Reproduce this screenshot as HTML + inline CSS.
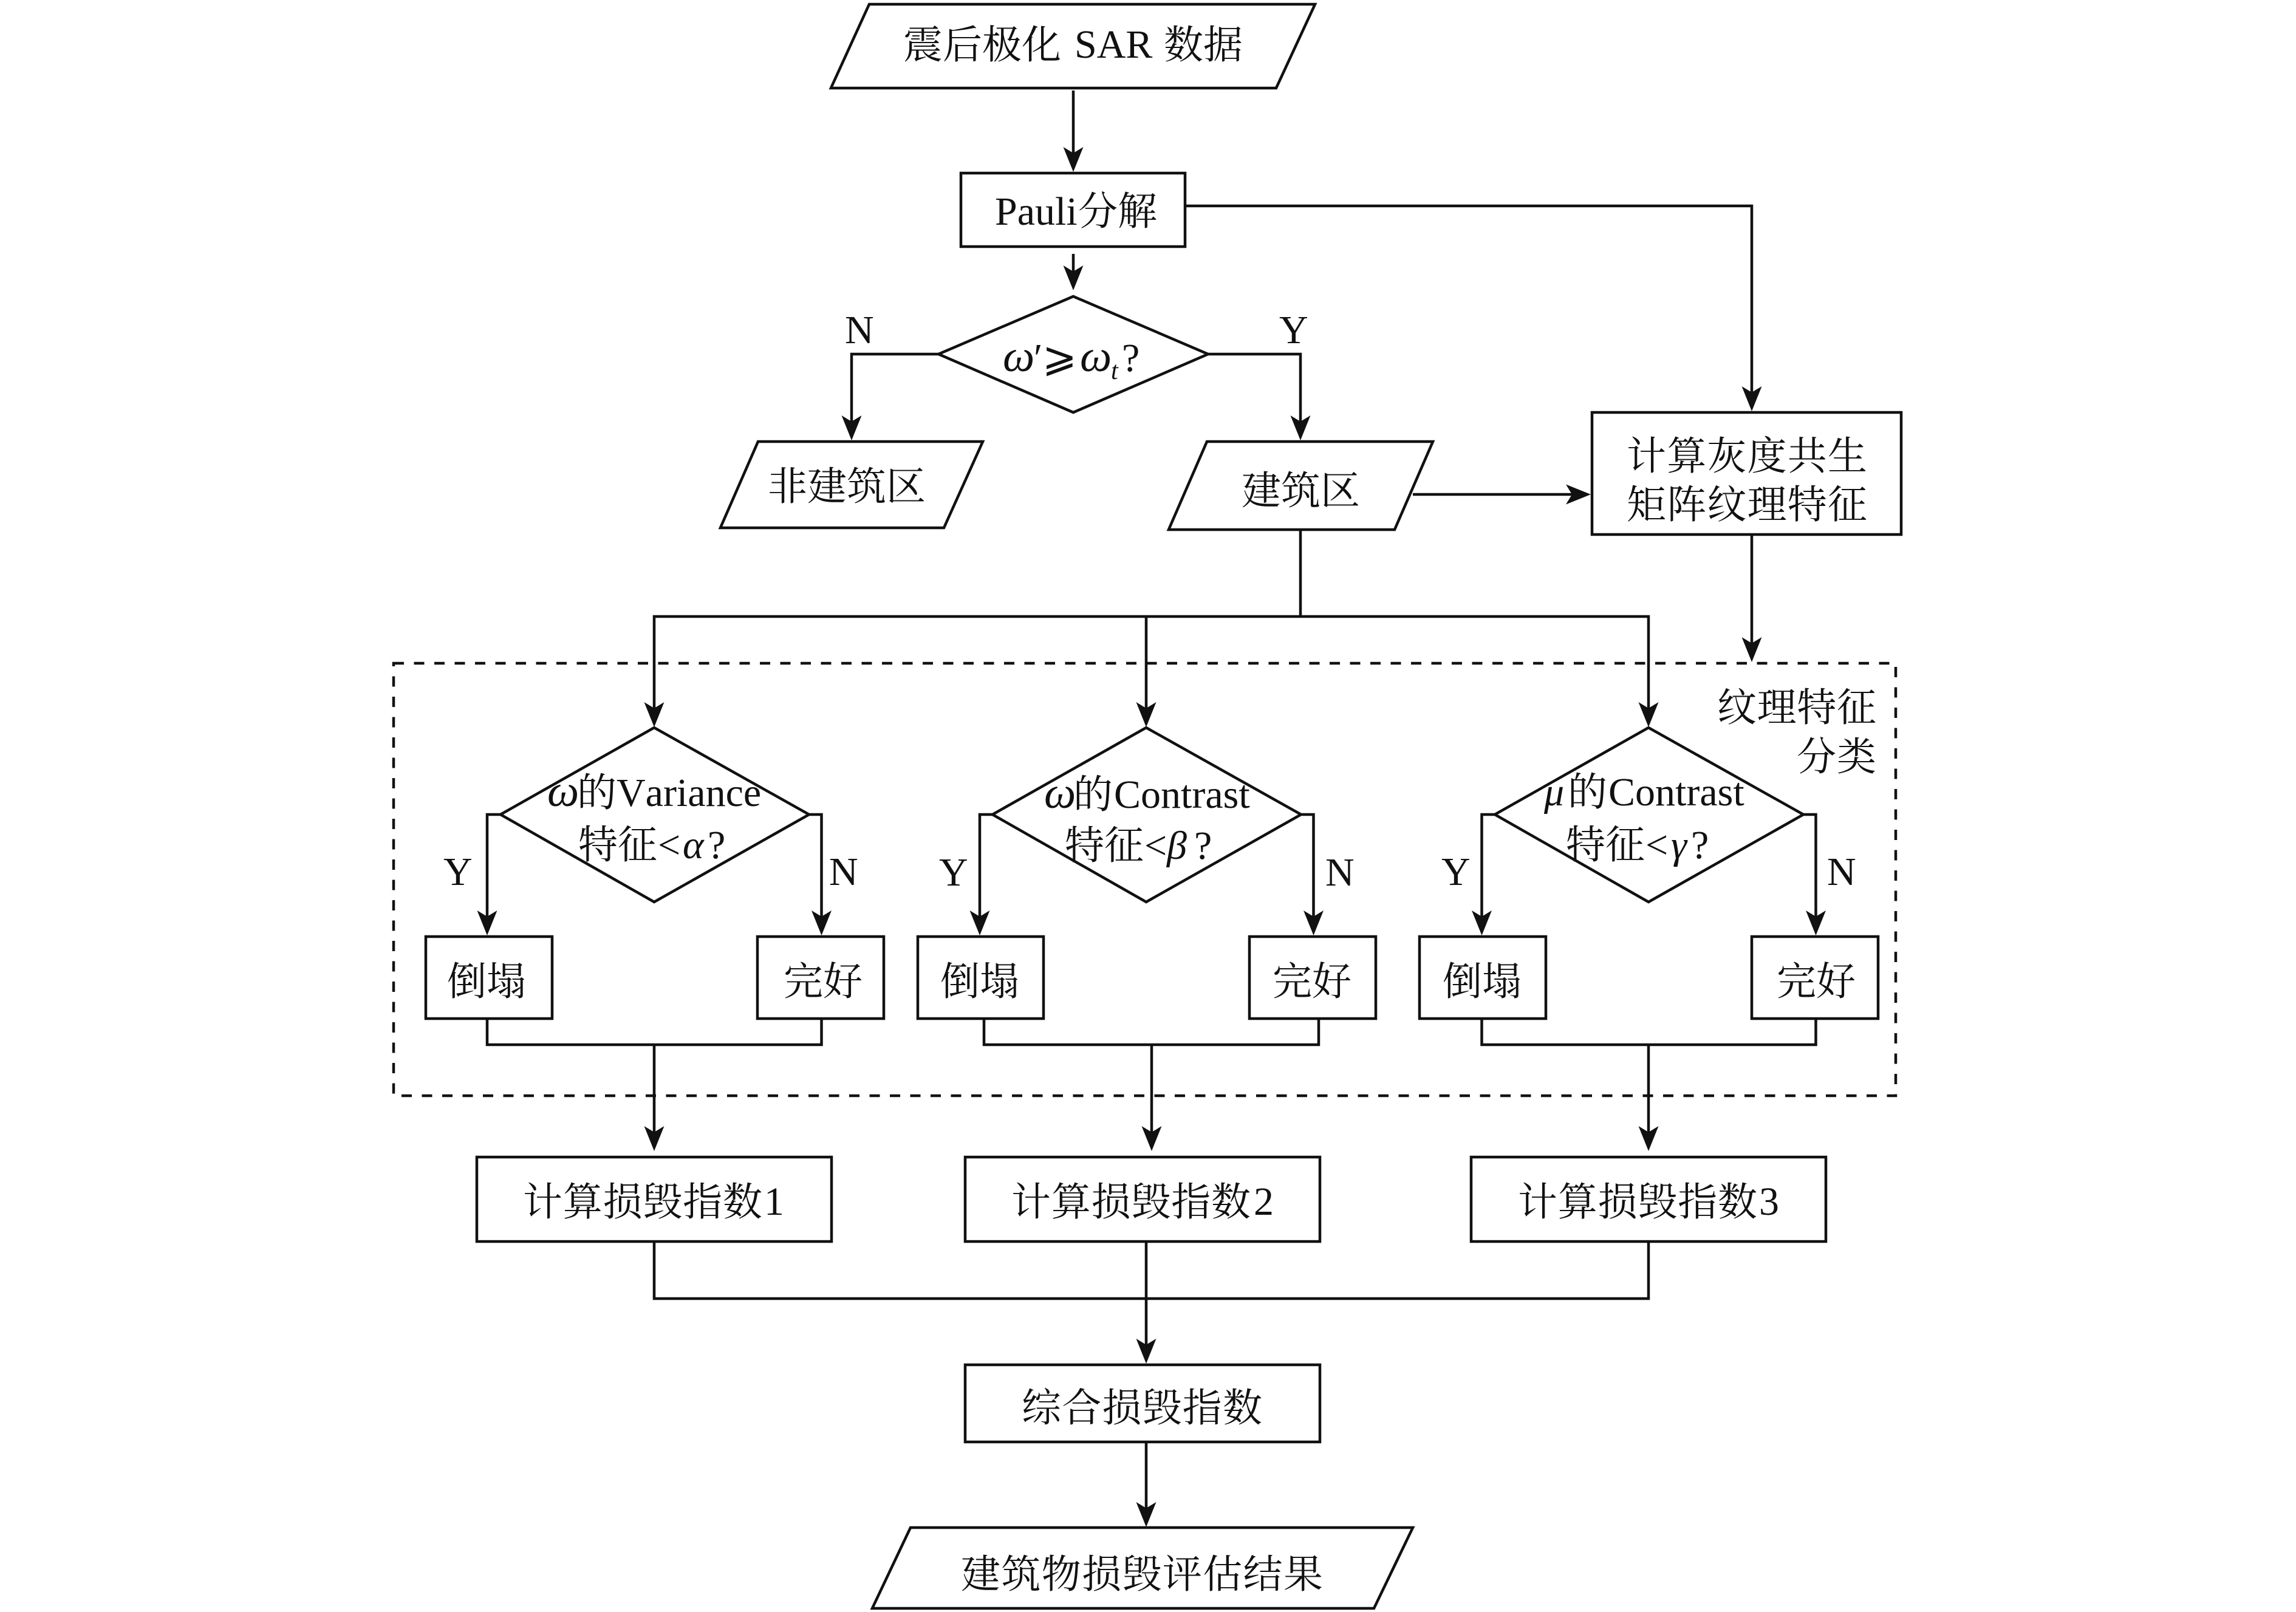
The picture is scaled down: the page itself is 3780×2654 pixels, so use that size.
<!DOCTYPE html>
<html lang="zh"><head><meta charset="utf-8"><title>建筑物损毁评估流程</title>
<style>
html,body{margin:0;padding:0;background:#fff;width:3780px;height:2654px;overflow:hidden}
svg{display:block}
text{font-family:"Liberation Serif","Noto Serif CJK SC",serif;font-size:66px;fill:#111;font-kerning:none}
.c{font-family:"Noto Serif CJK SC","Liberation Serif",serif;font-size:65px}
.i{font-style:italic}
.w{font-style:italic;font-size:74px}
.s{fill:none;stroke:#111;stroke-width:4.5}
</style></head><body>
<svg xmlns="http://www.w3.org/2000/svg" width="3780" height="2654" viewBox="0 0 3780 2654">
<defs><path id="a" d="M0 0L-16.5-41L0-31L16.5-41Z" fill="#111"/></defs>
<rect width="3780" height="2654" fill="#fff"/>

<!-- shapes -->
<g class="s">
<polygon points="1431,7 2165,7 2101,145 1368,145"/>
<rect x="1582" y="285" width="369" height="121"/>
<polygon points="1767,488 1989,583 1767,679 1545,583"/>
<polygon points="1248,727 1618,727 1554,869 1186,869"/>
<polygon points="1987,727 2359,727 2296,872 1924,872"/>
<rect x="2621" y="679" width="509" height="201"/>
<rect x="648" y="1092" width="2473" height="712" stroke-dasharray="17 16.5"/>
<polygon points="1077,1198 1332,1341 1077,1485 824,1341"/>
<polygon points="1887,1198 2142,1341 1887,1485 1634,1341"/>
<polygon points="2714,1198 2969,1341 2714,1485 2461,1341"/>
<rect x="701" y="1542" width="208" height="135"/>
<rect x="1247" y="1542" width="208" height="135"/>
<rect x="1511" y="1542" width="207" height="135"/>
<rect x="2057" y="1542" width="208" height="135"/>
<rect x="2337" y="1542" width="208" height="135"/>
<rect x="2884" y="1542" width="208" height="135"/>
<rect x="785" y="1905" width="584" height="139"/>
<rect x="1589" y="1905" width="584" height="139"/>
<rect x="2422" y="1905" width="584" height="139"/>
<rect x="1589" y="2247" width="584" height="127"/>
<polygon points="1499,2515 2326,2515 2262,2648 1436,2648"/>

<!-- connectors -->
<path d="M1767 149V270"/>
<path d="M1767 418V465"/>
<path d="M1951 339H2884V660"/>
<path d="M1545 583H1402V712"/>
<path d="M1989 583H2141V712"/>
<path d="M2326 814H2605"/>
<path d="M2884 880V1075"/>
<path d="M2141 872V1015"/>
<path d="M1077 1185V1015H2714V1185"/>
<path d="M1887 1015V1185"/>
<path d="M824 1341H802V1528"/>
<path d="M1332 1341H1352.500V1528"/>
<path d="M1634 1341H1613V1528"/>
<path d="M2142 1341H2162.500V1528"/>
<path d="M2461 1341H2439.500V1528"/>
<path d="M2969 1341H2989.500V1528"/>
<path d="M802 1677V1720H1352.500V1677"/>
<path d="M1620 1677V1720H2171V1677"/>
<path d="M2439.500 1677V1720H2989.500V1677"/>
<path d="M1077 1720V1880"/>
<path d="M1896 1720V1880"/>
<path d="M2714 1720V1880"/>
<path d="M1077 2044V2138H2714V2044"/>
<path d="M1887 2044V2232"/>
<path d="M1887 2374V2500"/>
</g>

<!-- arrowheads -->
<use href="#a" transform="translate(1767 283)"/>
<use href="#a" transform="translate(1767 478)"/>
<use href="#a" transform="translate(2884 677)"/>
<use href="#a" transform="translate(1402 725)"/>
<use href="#a" transform="translate(2141 725)"/>
<use href="#a" transform="translate(2619 814) rotate(-90)"/>
<use href="#a" transform="translate(2884 1090)"/>
<use href="#a" transform="translate(1077 1197)"/>
<use href="#a" transform="translate(1887 1197)"/>
<use href="#a" transform="translate(2714 1197)"/>
<use href="#a" transform="translate(802 1540)"/>
<use href="#a" transform="translate(1352.500 1540)"/>
<use href="#a" transform="translate(1613 1540)"/>
<use href="#a" transform="translate(2162.500 1540)"/>
<use href="#a" transform="translate(2439.500 1540)"/>
<use href="#a" transform="translate(2989.500 1540)"/>
<use href="#a" transform="translate(1077 1895)"/>
<use href="#a" transform="translate(1896 1895)"/>
<use href="#a" transform="translate(2714 1895)"/>
<use href="#a" transform="translate(1887 2245)"/>
<use href="#a" transform="translate(1887 2514)"/>

<!-- labels -->
<text class="c" x="1487" y="96">震后极化</text>
<text x="1769" y="95">SAR</text>
<text class="c" x="1916" y="96">数据</text>
<text x="1638" y="370">Pauli</text>
<text class="c" x="1775" y="370">分解</text>
<text x="1651" y="611" class="w">ω</text>
<text x="1702" y="611">′</text>
<text x="1716" y="611" style="font-family:'DejaVu Serif','DejaVu Sans',serif;font-size:68px">⩾</text>
<text x="1778" y="611" class="w">ω</text>
<text x="1829" y="624" class="i" style="font-size:42px">t</text>
<text x="1847" y="611">?</text>
<text x="1391" y="565">N</text>
<text x="2106" y="565">Y</text>
<text class="c" x="1264" y="823">非建筑区</text>
<text class="c" x="2044" y="830">建筑区</text>
<text class="c" x="2678" y="773" textLength="396">计算灰度共生</text>
<text class="c" x="2678" y="853" textLength="396">矩阵纹理特征</text>
<text class="c" x="2827" y="1187" textLength="262">纹理特征</text>
<text class="c" x="2958" y="1268" textLength="131">分类</text>

<text x="901" y="1327" class="w">ω</text>
<text class="c" x="950" y="1327">的</text>
<text x="1015" y="1327">Variance</text>
<text class="c" x="952" y="1413">特征</text>
<text x="1083" y="1413">&lt;</text>
<text x="1124" y="1413" class="i">α</text>
<text x="1165" y="1413">?</text>
<text x="730" y="1457">Y</text>
<text x="1365" y="1457">N</text>
<text class="c" x="736" y="1638">倒塌</text>
<text class="c" x="1290" y="1638">完好</text>

<text x="1719" y="1330" class="w">ω</text>
<text class="c" x="1767" y="1330">的</text>
<text x="1834" y="1330">Contrast</text>
<text class="c" x="1753" y="1414">特征</text>
<text x="1884" y="1414">&lt;</text>
<text x="1921" y="1414" class="i">β</text>
<text x="1966" y="1414">?</text>
<text x="1546" y="1458">Y</text>
<text x="2182" y="1458">N</text>
<text class="c" x="1548" y="1638">倒塌</text>
<text class="c" x="2095" y="1638">完好</text>

<text x="2542" y="1326" class="i">μ</text>
<text class="c" x="2581" y="1326">的</text>
<text x="2648" y="1326">Contrast</text>
<text class="c" x="2578" y="1413">特征</text>
<text x="2709" y="1413">&lt;</text>
<text x="2751" y="1413" class="i">γ</text>
<text x="2784" y="1413">?</text>
<text x="2373" y="1457">Y</text>
<text x="3008" y="1457">N</text>
<text class="c" x="2375" y="1638">倒塌</text>
<text class="c" x="2925" y="1638">完好</text>

<text class="c" x="861" y="2001" textLength="394">计算损毁指数</text><text x="1258" y="2000">1</text>
<text class="c" x="1665" y="2001" textLength="394">计算损毁指数</text><text x="2064" y="2000">2</text>
<text class="c" x="2499" y="2001" textLength="394">计算损毁指数</text><text x="2896" y="2000">3</text>
<text class="c" x="1682" y="2340" textLength="396">综合损毁指数</text>
<text class="c" x="1582" y="2614" textLength="596">建筑物损毁评估结果</text>
</svg>
</body></html>
